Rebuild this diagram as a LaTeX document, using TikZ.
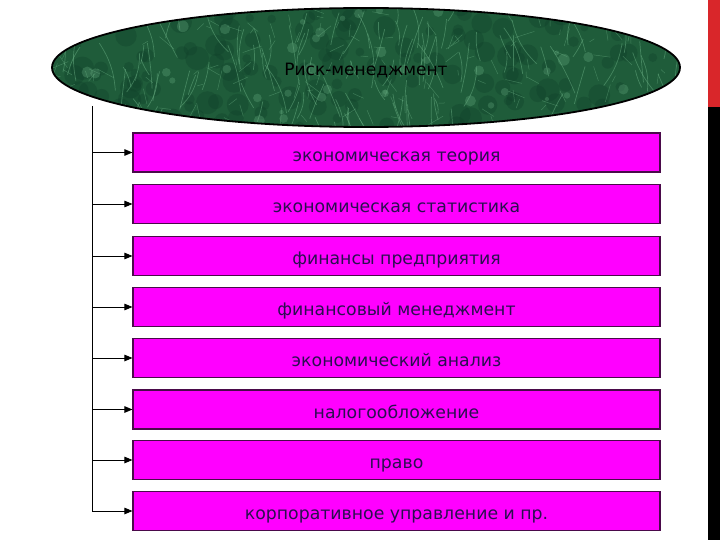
\documentclass[tikz,border=0pt]{standalone}
\usepackage{fontspec}
\setmainfont{DejaVu Sans}
\usetikzlibrary{shapes.geometric,arrows.meta}
\definecolor{boxfill}{HTML}{FF00FF}
\definecolor{boxline}{HTML}{4A0A4A}
\definecolor{boxtext}{HTML}{2A1050}
\definecolor{marble}{HTML}{1F5C3A}
\definecolor{marblelight}{HTML}{6AB084}
\definecolor{marbledark}{HTML}{10402A}
\definecolor{barred}{HTML}{D9262A}
\tikzset{
  topic/.style={draw=boxline, line width=1.1pt, fill=boxfill, minimum width=527pt, minimum height=39pt, inner sep=0pt, text=boxtext, font=\fontsize{17.3}{19}\selectfont, text height=17.6pt, text depth=0pt},
  link/.style={line width=0.9pt, -{Triangle[length=8pt,width=6.5pt]}},
  trunk/.style={line width=0.9pt}
}
\begin{document}
\begin{tikzpicture}[x=1pt,y=-1pt]
\useasboundingbox (0,0) rectangle (720,540);
\fill[white] (0,0) rectangle (720,540);
% right edge bar
\fill[barred] (708,0) rectangle (720,107);
\fill[black] (708,107) rectangle (720,540);
% ellipse with marble texture
\node[ellipse, draw=none, fill=marble, minimum width=628pt, minimum height=119pt, inner sep=0pt] (top) at (366,67.5) {};
\begin{scope}
  \clip (366,67.5) ellipse [x radius=314, y radius=59.5];
  \pgfmathsetseed{7}
  \foreach \i in {1,...,160} {
    \pgfmathsetmacro\xa{50+rnd*640}
    \pgfmathsetmacro\ya{5+rnd*125}
    \pgfmathsetmacro\rr{4+rnd*8}
    \fill[marbledark, opacity=0.35] (\xa,\ya) circle [radius=\rr];
  }
  \foreach \i in {1,...,140} {
    \pgfmathsetmacro\xa{50+rnd*640}
    \pgfmathsetmacro\ya{5+rnd*125}
    \pgfmathsetmacro\ang{60+rnd*60}
    \pgfmathsetmacro\len{15+rnd*40}
    \pgfmathsetmacro\bend{-20+rnd*40}
    \draw[marblelight, opacity=0.5, line width=0.7pt] (\xa,\ya) to[bend left=\bend] ++(\ang:\len);
  }
  \foreach \i in {1,...,160} {
    \pgfmathsetmacro\xa{50+rnd*640}
    \pgfmathsetmacro\ya{5+rnd*125}
    \pgfmathsetmacro\ang{rnd*360}
    \pgfmathsetmacro\len{5+rnd*15}
    \draw[marblelight, opacity=0.45, line width=0.5pt] (\xa,\ya) -- ++(\ang:\len);
  }
  \foreach \i in {1,...,50} {
    \pgfmathsetmacro\xa{50+rnd*640}
    \pgfmathsetmacro\ya{5+rnd*125}
    \pgfmathsetmacro\rr{2+rnd*4}
    \fill[marblelight, opacity=0.3] (\xa,\ya) circle [radius=\rr];
  }
\end{scope}
\draw[black, line width=1.8pt] (366,67.5) ellipse [x radius=314, y radius=59.5];
\node[text=black, font=\fontsize{17}{19}\selectfont] (toptext) at (366,70) {Риск-менеджмент};
% boxes
\node[topic] (b1) at (396.5,152.5) {экономическая теория};
\node[topic] (b2) at (396.5,204) {экономическая статистика};
\node[topic] (b3) at (396.5,256) {финансы предприятия};
\node[topic] (b4) at (396.5,307) {финансовый менеджмент};
\node[topic] (b5) at (396.5,358) {экономический анализ};
\node[topic] (b6) at (396.5,409.5) {налогообложение};
\node[topic] (b7) at (396.5,460) {право};
\node[topic] (b8) at (396.5,511) {корпоративное управление и пр.};
% connectors
\coordinate (v0) at (92,106);
\draw[trunk] (v0) -- (v0 |- b8.west);
\foreach \b in {b1,b2,b3,b4,b5,b6,b7,b8} {
  \draw[link] (v0 |- \b.west) -- (\b.west);
}
\end{tikzpicture}
\end{document}
